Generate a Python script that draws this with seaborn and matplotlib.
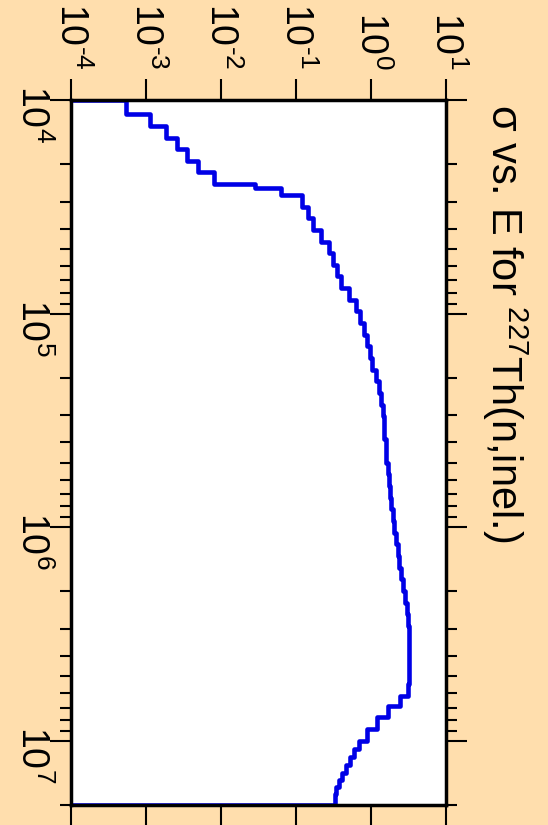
import numpy as np
import pandas as pd
import matplotlib
matplotlib.use("Agg")
import matplotlib.pyplot as plt
from matplotlib.ticker import FixedLocator, LogLocator, NullLocator
import seaborn as sns

# ---------------- data ----------------
energy_edges_eV = [
    1.0e4, 1.166e4, 1.319e4, 1.501e4, 1.700e4, 1.922e4, 2.178e4, 2.465e4,
    2.587e4, 2.781e4, 3.154e4, 3.573e4, 4.053e4, 4.598e4, 5.209e4, 5.908e4,
    6.702e4, 7.593e4, 8.610e4, 9.754e4, 1.106e5, 1.255e5, 1.422e5, 1.613e5,
    1.830e5, 2.075e5, 2.351e5, 2.667e5, 3.024e5, 3.426e5, 3.886e5, 4.408e5,
    4.994e5, 5.665e5, 6.427e5, 7.281e5, 8.258e5, 9.367e5, 1.061e6, 1.204e6,
    1.365e6, 1.547e6, 1.754e6, 1.989e6, 2.254e6, 2.557e6, 2.900e6, 3.286e6,
    3.727e6, 4.227e6, 4.787e6, 5.431e6, 6.161e6, 6.863e6, 7.775e6, 8.817e6,
    1.0e7, 1.093e7, 1.192e7, 1.299e7, 1.416e7, 1.526e7, 1.646e7, 1.775e7,
    2.0e7,
]
sigma_barn = [
    5.39e-4, 1.14e-3, 1.85e-3, 2.61e-3, 3.52e-3, 4.94e-3, 8.16e-3, 0.0288,
    0.0636, 0.119, 0.146, 0.170, 0.218, 0.275, 0.311, 0.357,
    0.395, 0.510, 0.626, 0.715, 0.809, 0.898, 0.973, 1.047,
    1.159, 1.260, 1.352, 1.425, 1.469, 1.497, 1.577, 1.601,
    1.662, 1.746, 1.784, 1.840, 1.939, 2.037, 2.146, 2.261,
    2.375, 2.503, 2.661, 2.830, 3.010, 3.133, 3.201, 3.231,
    3.231, 3.231, 3.201, 3.076, 2.427, 1.703, 1.214, 0.879,
    0.687, 0.589, 0.521, 0.460, 0.416, 0.375, 0.338, 0.328,
]
sigma_ticks = [1e-4, 1e-3, 1e-2, 1e-1, 1e0, 1e1]
sigma_tick_labels = ["$10^{\\text{-}4}$", "$10^{\\text{-}3}$", "$10^{\\text{-}2}$",
                     "$10^{\\text{-}1}$", "$10^{0}$", "$10^{1}$"]
energy_ticks = [1e4, 1e5, 1e6, 1e7]
energy_tick_labels = ["$10^{4}$", "$10^{5}$", "$10^{6}$", "$10^{7}$"]
title_text = "σ vs. E for $^{227}$Th(n,inel.)"
sigma_min, sigma_max = 1e-4, 1e1
energy_min, energy_max = 1e4, 2e7

assert len(energy_edges_eV) == len(sigma_barn) + 1

# ---------------- style ----------------
sns.set_theme(style="ticks")
plt.rcParams["font.family"] = ["Liberation Sans", "DejaVu Sans"]
plt.rcParams["mathtext.fontset"] = "custom"
plt.rcParams["mathtext.rm"] = "Liberation Sans"
plt.rcParams["mathtext.it"] = "Liberation Sans:italic"
plt.rcParams["mathtext.bf"] = "Liberation Sans:bold"
plt.rcParams["mathtext.default"] = "regular"
plt.rcParams["axes.unicode_minus"] = False

bg = "#FFDEAD"
W, H = 548, 825
fig = plt.figure(figsize=(W / 100, H / 100), dpi=100, facecolor=bg)
ax = fig.add_axes([71 / W, 20 / H, 375 / W, 705 / H])
ax.set_facecolor("white")
ax.set_xscale("log")
ax.set_yscale("log")

# step path (histogram drawn from baseline, rotated: sigma on x, energy on y)
edges = np.asarray(energy_edges_eV)
vals = np.asarray(sigma_barn)
x_path = np.concatenate([[sigma_min], np.repeat(vals, 2), [sigma_min]])
y_path = np.repeat(edges, 2)
df = pd.DataFrame({"sigma": x_path, "energy": y_path})

sns.lineplot(data=df, x="sigma", y="energy", sort=False, estimator=None,
             color="#0000E6", linewidth=3.3, ax=ax)

ax.set_xlim(sigma_min, sigma_max)
ax.set_ylim(energy_max, energy_min)
ax.set_xlabel("")
ax.set_ylabel("")

for s in ax.spines.values():
    s.set_visible(True)
    s.set_color("black")
    s.set_linewidth(2.5)

# sigma axis (top labels, ticks top+bottom)
ax.xaxis.set_major_locator(FixedLocator(sigma_ticks))
ax.xaxis.set_minor_locator(NullLocator())
ax.set_xticklabels(sigma_tick_labels)
ax.tick_params(axis="x", which="major", top=True, bottom=True, labeltop=True,
               labelbottom=False, direction="out", length=15, width=1.5,
               color="black", labelrotation=-90, pad=7, labelsize=27,
               labelcolor="black")

# energy axis (left labels, ticks left+right)
ax.yaxis.set_major_locator(FixedLocator(energy_ticks))
ax.yaxis.set_minor_locator(LogLocator(base=10, subs=np.arange(2, 10)))
ax.set_yticklabels(energy_tick_labels)
ax.yaxis.set_minor_formatter(plt.NullFormatter())
ax.tick_params(axis="y", which="both", left=True, right=True, labelleft=True,
               labelright=False, direction="out", width=1.5, color="black")
ax.tick_params(axis="y", which="major", length=15, labelrotation=-90, pad=0,
               labelsize=27, labelcolor="black")
ax.tick_params(axis="y", which="minor", length=8)

fig.text(505 / W, 1 - 104 / H, title_text, rotation=-90, ha="center",
         va="top", fontsize=30, color="black")

fig.savefig("out.png", dpi=100, facecolor=bg)
